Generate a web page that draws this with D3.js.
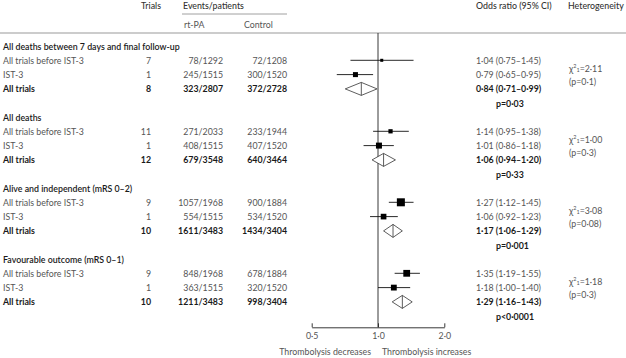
<!DOCTYPE html>
<html><head><meta charset="utf-8">
<script src="https://cdn.jsdelivr.net/npm/d3@7"></script>
<style>
body{margin:0;background:#fff;}
svg{display:block;font-family:Lato,"Noto Sans",sans-serif;}
</style></head>
<body><svg id="c" width="626" height="358"></svg>
<script>
const groups = ["All deaths between 7 days and final follow-up","All deaths","Alive and independent (mRS 0–2)","Favourable outcome (mRS 0–1)"];
const rowLabels = ["All trials before IST-3","IST-3","All trials"];
const trials = [[7,1,8],[11,1,12],[9,1,10],[9,1,10]];
const rtpa = [["78/1292","245/1515","323/2807"],["271/2033","408/1515","679/3548"],["1057/1968","554/1515","1611/3483"],["848/1968","363/1515","1211/3483"]];
const control = [["72/1208","300/1520","372/2728"],["233/1944","407/1520","640/3464"],["900/1884","534/1520","1434/3404"],["678/1884","320/1520","998/3404"]];
const oddsRatio = [[1.04,0.79,0.84],[1.14,1.01,1.06],[1.27,1.06,1.17],[1.35,1.18,1.29]];
const ciLow = [[0.75,0.65,0.71],[0.95,0.86,0.94],[1.12,0.92,1.06],[1.19,1.00,1.16]];
const ciHigh = [[1.45,0.95,0.99],[1.38,1.18,1.20],[1.45,1.23,1.29],[1.55,1.40,1.43]];
const weights = [[9,25],[18,36],[64,32],[46,34]];
const pValues = ["p=0·03","p=0·33","p=0·001","p<0·0001"];
const chiSq = ["2·11","1·00","3·08","1·18"];
const hetP = ["(p=0·1)","(p=0·3)","(p=0·08)","(p=0·3)"];
const axisTicks = [0.5,1,2];
const axisTickLabels = ["0·5","1·0","2·0"];

const FS = 8.8;
const svg = d3.select("#c");
const fmt = v => d3.format(".2f")(v).replace(".","·");
const x = d3.scaleLog().domain([0.5,2]).range([311.7,444.3]);
const yGroup = d3.scaleLinear().domain([0,3]).range([46,259]);
const rowStep = 14.3;
const size = d3.scaleSqrt().domain([0,64]).range([0,8]);
const grey = "#555", dark = "#1a1a1a";

// header
const hdr = svg.append("g").attr("font-size",FS).attr("fill","#333").attr("font-weight",500);
hdr.append("text").attr("x",141).attr("y",5).attr("dominant-baseline","central").text("Trials");
hdr.append("text").attr("x",183).attr("y",5).attr("dominant-baseline","central").text("Events/patients");
hdr.append("text").attr("x",184).attr("y",24).attr("dominant-baseline","central").attr("fill",grey).attr("font-weight",400).text("rt-PA");
hdr.append("text").attr("x",244).attr("y",24).attr("dominant-baseline","central").attr("fill",grey).attr("font-weight",400).text("Control");
hdr.append("text").attr("x",476).attr("y",5).attr("dominant-baseline","central").text("Odds ratio (95% CI)");
hdr.append("text").attr("x",568).attr("y",5).attr("dominant-baseline","central").text("Heterogeneity");
svg.append("line").attr("x1",182).attr("x2",287).attr("y1",14).attr("y2",14).attr("stroke","#888").attr("stroke-width",0.8);
svg.append("line").attr("x1",0).attr("x2",626).attr("y1",33).attr("y2",33).attr("stroke","#999").attr("stroke-width",1);

// reference line
svg.append("line").attr("x1",x(1)).attr("x2",x(1)).attr("y1",33).attr("y2",327.3).attr("stroke","#222").attr("stroke-width",0.9);

groups.forEach((gName,g)=>{
  const y0 = yGroup(g);
  const G = svg.append("g").attr("font-size",FS);
  G.append("text").attr("x",3).attr("y",y0).attr("dominant-baseline","central").attr("fill",dark).attr("font-weight",600).text(gName);
  rowLabels.forEach((lab,i)=>{
    const y = y0 + rowStep*(i+1);
    const bold = i===2;
    const col = bold?dark:grey, fw = bold?700:400;
    G.append("text").attr("x",3).attr("y",y).attr("dominant-baseline","central").attr("fill",col).attr("font-weight",fw).text(lab);
    G.append("text").attr("x",151).attr("y",y).attr("text-anchor","end").attr("dominant-baseline","central").attr("fill",col).attr("font-weight",fw).text(trials[g][i]);
    G.append("text").attr("x",223).attr("y",y).attr("text-anchor","end").attr("dominant-baseline","central").attr("fill",col).attr("font-weight",fw).text(rtpa[g][i]);
    G.append("text").attr("x",287).attr("y",y).attr("text-anchor","end").attr("dominant-baseline","central").attr("fill",col).attr("font-weight",fw).text(control[g][i]);
    G.append("text").attr("x",476).attr("y",y).attr("dominant-baseline","central").attr("fill",col).attr("font-weight",fw)
      .text(`${fmt(oddsRatio[g][i])} (${fmt(ciLow[g][i])}–${fmt(ciHigh[g][i])})`);
    if(!bold){
      svg.append("line").attr("x1",x(ciLow[g][i])).attr("x2",x(ciHigh[g][i])).attr("y1",y).attr("y2",y).attr("stroke","#111").attr("stroke-width",0.9);
      const s = size(weights[g][i]);
      svg.append("rect").attr("x",x(oddsRatio[g][i])-s/2).attr("y",y-s/2).attr("width",s).attr("height",s).attr("fill","#000");
    } else {
      const h = 6.5;
      const pts = [[x(ciLow[g][i]),y],[x(oddsRatio[g][i]),y-h],[x(ciHigh[g][i]),y],[x(oddsRatio[g][i]),y+h]];
      svg.append("polygon").attr("points",pts.map(p=>p.join(",")).join(" ")).attr("fill","#fff").attr("stroke","#333").attr("stroke-width",0.8);
      svg.append("line").attr("x1",x(oddsRatio[g][i])).attr("x2",x(oddsRatio[g][i])).attr("y1",y-h).attr("y2",y+h).attr("stroke","#333").attr("stroke-width",0.8);
    }
  });
  G.append("text").attr("x",496).attr("y",y0+rowStep*4).attr("dominant-baseline","central").attr("fill",dark).attr("font-weight",700).text(pValues[g]);
  const hy = y0 + rowStep + 8;
  const chi = G.append("text").attr("x",569).attr("y",hy).attr("dominant-baseline","central").attr("fill",grey);
  chi.append("tspan").text("χ");
  chi.append("tspan").attr("font-size",5.5).attr("dy",-2.5).text("2");
  chi.append("tspan").attr("font-size",5.5).attr("dy",4).text("1");
  chi.append("tspan").attr("dy",-1.5).text("=" + chiSq[g]);
  G.append("text").attr("x",569).attr("y",hy+13).attr("dominant-baseline","central").attr("fill",grey).text(hetP[g]);
});

// axis
const axis = d3.axisBottom(x).tickValues(axisTicks).tickFormat((d,i)=>axisTickLabels[i]).tickSizeInner(-4).tickSizeOuter(0).tickPadding(5);
const ax = svg.append("g").attr("transform","translate(0,327.3)").call(axis);
ax.select(".domain").attr("stroke","#222").attr("stroke-width",0.9);
ax.selectAll(".tick line").attr("stroke","#222").attr("stroke-width",0.9);
ax.selectAll(".tick text").attr("font-size",FS).attr("fill",grey).attr("font-family","Lato,sans-serif");
svg.append("text").attr("x",371).attr("y",351).attr("text-anchor","end").attr("dominant-baseline","central").attr("font-size",FS).attr("fill",grey).text("Thrombolysis decreases");
svg.append("text").attr("x",382).attr("y",351).attr("dominant-baseline","central").attr("font-size",FS).attr("fill",grey).text("Thrombolysis increases");
</script></body></html>
